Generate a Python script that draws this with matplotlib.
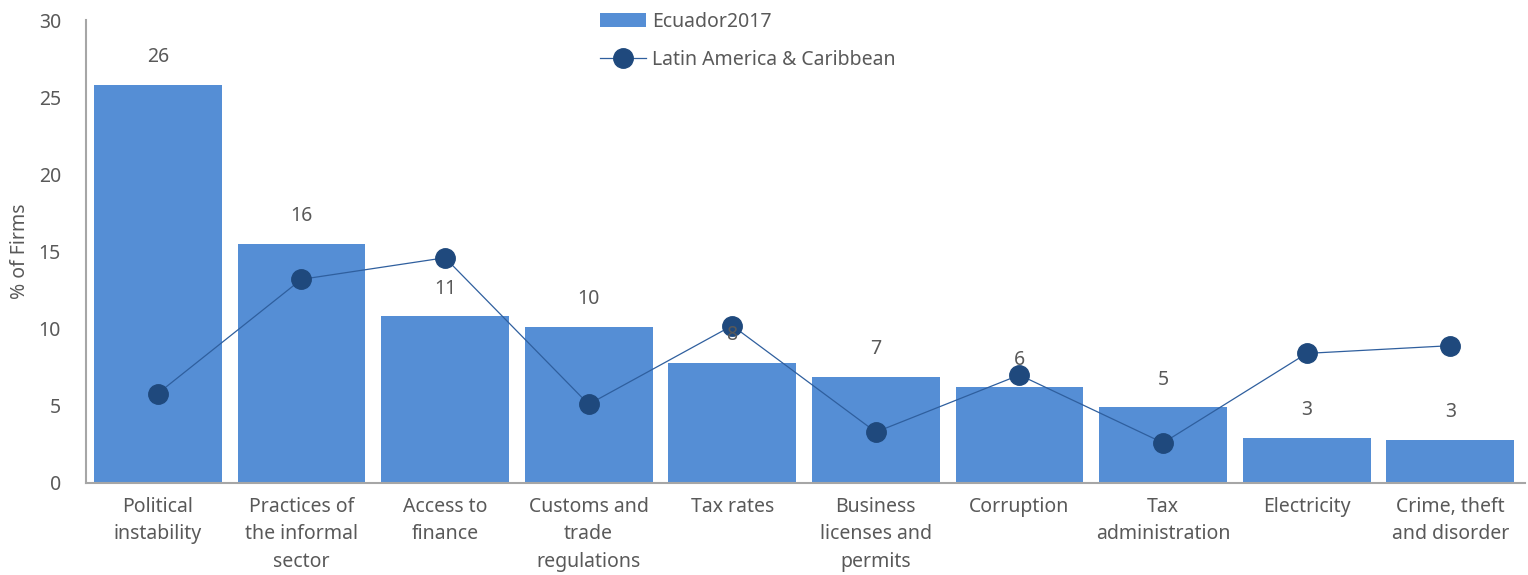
import numpy as np
import matplotlib.pyplot as plt

plt.rcParams['font.family'] = ['Noto Sans', 'DejaVu Sans']

categories = ["Political\ninstability", "Practices of\nthe informal\nsector", "Access to\nfinance",
              "Customs and\ntrade\nregulations", "Tax rates", "Business\nlicenses and\npermits",
              "Corruption", "Tax\nadministration", "Electricity", "Crime, theft\nand disorder"]
ecuador = [25.8, 15.5, 10.8, 10.1, 7.8, 6.9, 6.2, 4.9, 2.9, 2.8]
lac = [5.8, 13.2, 14.6, 5.1, 10.2, 3.3, 7.0, 2.6, 8.4, 8.9]

gray = "#595959"
fig = plt.figure(figsize=(15.28, 5.75), dpi=100)
ax = fig.add_axes([86 / 1528, 0.16, 1439 / 1528, 0.805])

x = np.arange(len(categories))
bars = ax.bar(x, ecuador, width=0.89, color="#558ed5", label="Ecuador2017", zorder=2)
line, = ax.plot(x, lac, color="#2f5f9e", lw=0.9, marker="o", markersize=14,
                markerfacecolor="#1f497d", markeredgecolor="#1f497d",
                label="Latin America & Caribbean", zorder=3)

for xi, v in zip(x, ecuador):
    ax.annotate(f"{v:.0f}", (xi, v), xytext=(0, 20), textcoords="offset points",
                ha="center", va="center", fontsize=14, color=gray, zorder=4)

ax.set_xlim(-0.5, len(categories) - 0.48)
ax.set_ylim(0, 30)
ax.set_yticks(range(0, 31, 5))
ax.set_xticks(x)
ax.set_xticklabels(categories, fontsize=14, color=gray, linespacing=1.5)
ax.tick_params(axis="y", labelsize=14, labelcolor=gray, length=0, pad=18)
ax.tick_params(axis="x", length=0, pad=10)
ax.set_ylabel("% of Firms", fontsize=14, color=gray)
ax.yaxis.set_label_coords(-0.039, 0.5)

for s in ["top", "right"]:
    ax.spines[s].set_visible(False)
for s in ["left", "bottom"]:
    ax.spines[s].set_color("#a6a6a6")
    ax.spines[s].set_linewidth(1.5)

fig.legend([bars, line], ["Ecuador2017", "Latin America & Caribbean"],
           loc="upper left", bbox_to_anchor=(582 / 1528, 1.01), frameon=False,
           fontsize=14, labelcolor=gray, handlelength=2.4, handletextpad=0.3,
           labelspacing=0.95)

fig.savefig("out.png", dpi=100)
